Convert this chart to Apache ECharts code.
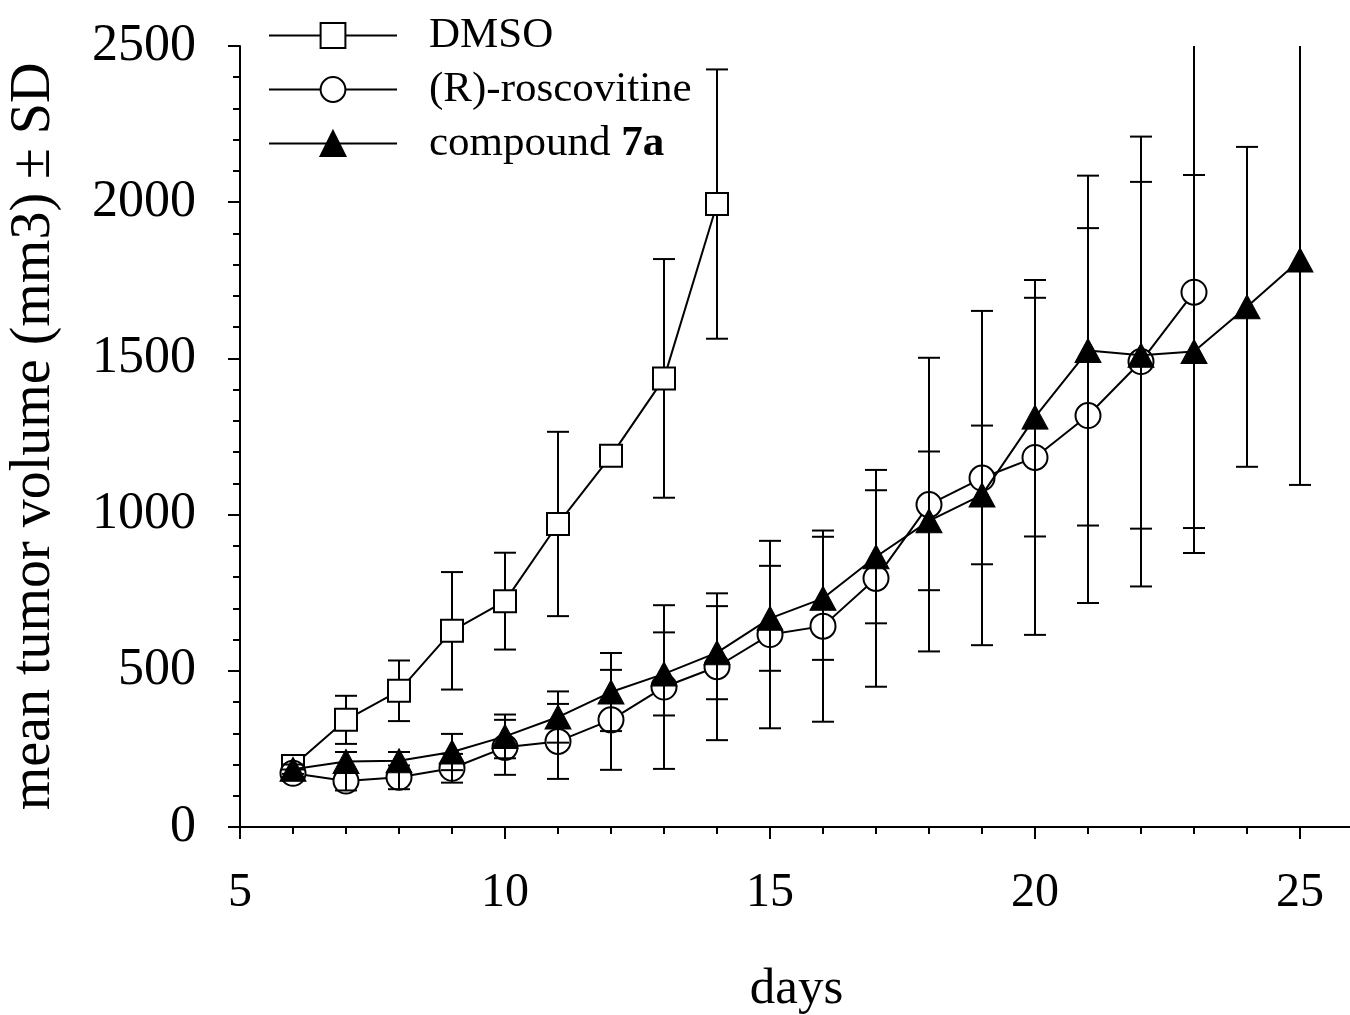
<!DOCTYPE html>
<html>
<head>
<meta charset="utf-8">
<script src="https://cdn.jsdelivr.net/npm/echarts@6/dist/echarts.min.js"></script>
<style>
html,body{margin:0;padding:0;background:#fff;}
#chart{width:1350px;height:1015px;}
</style>
</head>
<body>
<div id="chart"></div>
<script>
// ---- data ----
const dmsoDays = [6, 7, 8, 9, 10, 11, 12, 13, 14];
const dmsoMean = [195, 343, 436, 628, 723, 970, 1188, 1436, 1994];
const dmsoSD   = [30, 77, 97, 188, 155, 295, 25, 382, 431];

const roscoDays = [6, 7, 8, 9, 10, 11, 12, 13, 14, 15, 16, 17, 18, 19, 20, 21, 22, 23];
const roscoMean = [172, 147, 159, 188, 255, 274, 343, 448, 513, 616, 643, 796, 1032, 1117, 1183, 1317, 1490, 1712];
const roscoSD   = [12, 30, 38, 46, 88, 120, 160, 262, 235, 300, 306, 347, 470, 535, 568, 600, 720, 835];

const cmpDays = [6, 7, 8, 9, 10, 11, 12, 13, 14, 15, 16, 17, 18, 19, 20, 21, 22, 23, 24, 25];
const cmpMean = [185, 210, 212, 240, 290, 352, 432, 490, 558, 668, 732, 865, 980, 1063, 1312, 1525, 1510, 1522, 1665, 1815];
const cmpSD   = [15, 30, 28, 58, 70, 82, 125, 133, 149, 168, 197, 213, 222, 222, 382, 560, 555, 565, 512, 720];

const seriesNames = ['DMSO', '(R)-roscovitine', 'compound 7a'];
const yTitle = 'mean tumor volume (mm3) \u00b1 SD';
const xTitle = 'days';

const FONT = "'Liberation Serif', 'Times New Roman', serif";

function pts(days, mean) { return days.map((d, i) => [d, mean[i]]); }
function errs(days, mean, sd) { return days.map((d, i) => [d, mean[i], sd[i]]); }

function renderErr(params, api) {
  const x = api.value(0), m = api.value(1), s = api.value(2);
  const top = api.coord([x, m + s]);
  const bot = api.coord([x, m - s]);
  const hw = 11;
  const style = { stroke: '#000', lineWidth: 2, fill: null };
  return {
    type: 'group',
    children: [
      { type: 'line', shape: { x1: top[0], y1: top[1], x2: bot[0], y2: bot[1] }, style: style },
      { type: 'line', shape: { x1: top[0] - hw, y1: top[1], x2: top[0] + hw, y2: top[1] }, style: style },
      { type: 'line', shape: { x1: bot[0] - hw, y1: bot[1], x2: bot[0] + hw, y2: bot[1] }, style: style }
    ]
  };
}

const chart = echarts.init(document.getElementById('chart'), null, { renderer: 'canvas' });

const option = {
  animation: false,
  backgroundColor: '#fff',
  grid: { left: 240, right: -3, top: 46, bottom: 188, containLabel: false, outerBoundsMode: 'none' },
  legend: {
    orient: 'vertical',
    left: 263,
    top: 9,
    itemWidth: 128,
    itemHeight: 31,
    itemGap: 11,
    selectedMode: false,
    data: seriesNames,
    formatter: function (name) {
      if (name === 'compound 7a') return '{g|}{n|compound }{b|7a}';
      return '{g|}{n|' + name + '}';
    },
    textStyle: {
      fontFamily: FONT, fontSize: 43, color: '#000',
      rich: {
        g: { width: 27 },
        n: { fontFamily: FONT, fontSize: 43, color: '#000' },
        b: { fontFamily: FONT, fontSize: 43, color: '#000', fontWeight: 'bold' }
      }
    }
  },
  xAxis: [
    {
      type: 'value', position: 'bottom', min: 5, max: 26, interval: 5,
      name: xTitle, nameLocation: 'middle', nameGap: 137,
      nameTextStyle: { fontFamily: FONT, fontSize: 51, color: '#000' },
      axisLine: { onZero: false, lineStyle: { color: '#000', width: 2 } },
      axisTick: { show: true, length: 12, lineStyle: { color: '#000', width: 2 } },
      axisLabel: { showMaxLabel: false, margin: 42, fontFamily: FONT, fontSize: 48, color: '#000',
                   formatter: function (v) { return String(v); } },
      splitLine: { show: false }
    },
    {
      type: 'value', position: 'bottom', min: 5, max: 26, interval: 1,
      axisLine: { show: false },
      axisTick: { show: true, length: 7, lineStyle: { color: '#000', width: 2 } },
      axisLabel: { show: false },
      splitLine: { show: false }
    }
  ],
  yAxis: {
    type: 'value', min: 0, max: 2500, interval: 500,
    name: yTitle, nameLocation: 'middle', nameGap: 178,
    nameTextStyle: { fontFamily: FONT, fontSize: 56, color: '#000' },
    axisLine: { show: true, lineStyle: { color: '#000', width: 2 } },
    axisTick: { show: true, length: 12, lineStyle: { color: '#000', width: 2 } },
    minorTick: { show: true, splitNumber: 5, length: 7, lineStyle: { color: '#000', width: 2 } },
    axisLabel: { margin: 44, fontFamily: FONT, fontSize: 52, color: '#000',
                 formatter: function (v) { return String(v); } },
    splitLine: { show: false }
  },
  series: [
    {
      type: 'custom', name: 'DMSO-err', clip: true, z: 1,
      renderItem: renderErr, data: errs(dmsoDays, dmsoMean, dmsoSD)
    },
    {
      type: 'line', name: seriesNames[0], z: 2,
      data: pts(dmsoDays, dmsoMean),
      symbol: 'rect', symbolSize: 22, showAllSymbol: true,
      lineStyle: { color: '#000', width: 2 },
      itemStyle: { color: '#fff', borderColor: '#000', borderWidth: 2 }
    },
    {
      type: 'line', name: seriesNames[1], z: 3,
      data: pts(roscoDays, roscoMean),
      symbol: 'circle', symbolSize: 25, showAllSymbol: true,
      lineStyle: { color: '#000', width: 2 },
      itemStyle: { color: '#fff', borderColor: '#000', borderWidth: 2 }
    },
    {
      type: 'custom', name: 'rosco-err', clip: true, z: 4,
      renderItem: renderErr, data: errs(roscoDays, roscoMean, roscoSD)
    },
    {
      type: 'custom', name: 'cmp-err', clip: true, z: 5,
      renderItem: renderErr, data: errs(cmpDays, cmpMean, cmpSD)
    },
    {
      type: 'line', name: seriesNames[2], z: 6,
      data: pts(cmpDays, cmpMean),
      symbol: 'triangle', symbolSize: [26, 24], showAllSymbol: true,
      lineStyle: { color: '#000', width: 2 },
      itemStyle: { color: '#000', borderColor: '#000', borderWidth: 1 }
    }
  ]
};
chart.setOption(option);
</script>
</body>
</html>
